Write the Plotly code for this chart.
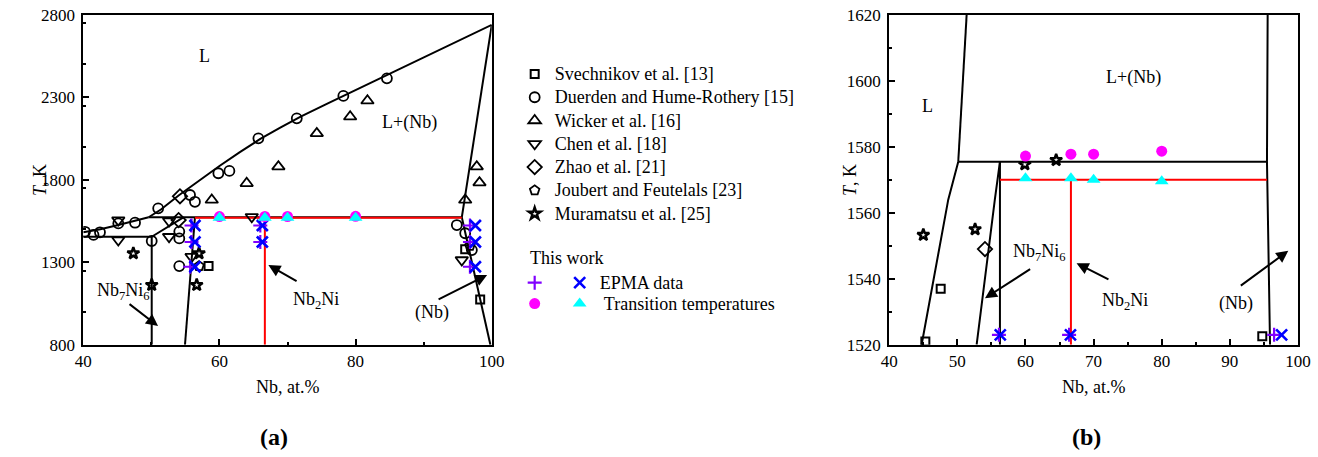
import plotly.graph_objects as go

# ---------------- panel (a): full Nb-rich section ----------------
# phase boundaries (Nb at.%, T in K)
a_liq_low_x = [40.0, 42.5, 45.0, 47.5, 49.6]
a_liq_low_t = [1482, 1500, 1525, 1550, 1573]
a_liq_x = [49.6, 51.4, 54.0, 57.0, 60.0, 63.0, 66.0, 69.0, 72.0, 76.0, 80.0, 85.0, 90.0, 95.0, 100.0]
a_liq_t = [1573, 1620, 1705, 1797, 1884, 1968, 2048, 2118, 2185, 2265, 2345, 2445, 2543, 2642, 2740]
a_peri_x = [49.6, 95.6]
a_peri_t = [1573, 1573]
a_eut_x = [40.0, 50.05]
a_eut_t = [1455, 1455]
a_mu_left_x = [50.05, 50.05]
a_mu_left_t = [1455, 800]
a_mu_sol_x = [50.05, 54.7]
a_mu_sol_t = [1455, 1573]
a_mu_right_x = [56.4, 54.94]
a_mu_right_t = [1573, 800]
a_nb_sol_x = [95.6, 100.0]
a_nb_sol_t = [1573, 2740]
a_nb_solv_x = [95.6, 99.8]
a_nb_solv_t = [1573, 800]
a_red_h_x = [56.4, 95.6]
a_red_h_t = [1570, 1570]
a_red_v_x = [66.67, 66.67]
a_red_v_t = [800, 1570]

# literature data, panel (a)
a_svech_x = [58.4, 96.1, 98.3]
a_svech_t = [1277, 1379, 1075]
a_duerden_x = [40.25, 41.5, 42.45, 45.14, 47.6, 50.05, 51.0, 54.1, 54.1, 54.1, 55.68, 56.4,
               59.84, 61.46, 65.72, 71.36, 78.2, 84.6, 94.87, 96.1, 97.08]
a_duerden_t = [1485, 1466, 1482, 1536, 1540, 1429, 1627, 1486, 1445, 1277, 1708, 1667,
               1840, 1854, 2052, 2173, 2309, 2416, 1526, 1476, 1374]
a_wicker_x = [58.87, 64.0, 68.66, 74.3, 79.2, 81.74, 96.1, 97.8, 98.2]
a_wicker_t = [1678, 1779, 1880, 2082, 2183, 2280, 1678, 1880, 1783]
a_chen_x = [45.14, 45.14, 52.6, 52.6, 55.9, 64.75, 95.6]
a_chen_t = [1556, 1435, 1550, 1455, 1334, 1576, 1314]
a_zhao_x = [54.2, 54.0]
a_zhao_t = [1700, 1556]
a_joubert_x = [57.0, 96.8]
a_joubert_t = [1277, 1400]
a_mura_x = [47.35, 50.05, 57.0, 56.66]
a_mura_t = [1354, 1162, 1354, 1162]

# this work, panel (a)
a_epma_p_x = [55.9, 55.9, 55.7, 66.0, 66.0, 96.8, 96.8, 96.8]
a_epma_p_t = [1523, 1423, 1273, 1523, 1423, 1523, 1423, 1273]
a_epma_x_x = [56.4, 56.4, 56.4, 66.3, 66.3, 97.6, 97.6, 97.6]
a_epma_x_t = [1523, 1423, 1273, 1523, 1423, 1523, 1423, 1273]

# transition temperatures (both panels)
tt_circ_x = [60.0, 66.67, 70.0, 80.0]
tt_circ_t = [1577.2, 1577.8, 1577.8, 1578.7]
tt_tri_x = [60.0, 66.67, 70.0, 80.0]
tt_tri_t = [1570.5, 1570.5, 1570.0, 1569.6]

# ---------------- panel (b): enlarged region near 1575 K ----------------
b_liq_hi_x = [51.36, 50.13]
b_liq_hi_t = [1620, 1575.5]
b_liq_low_x = [50.13, 48.66, 44.75]
b_liq_low_t = [1575.5, 1564, 1520]
b_peri_x = [50.13, 95.45]
b_peri_t = [1575.5, 1575.5]
b_mu_sol_x = [56.25, 55.5, 52.83]
b_mu_sol_t = [1575.5, 1564, 1520]
b_mu_right_x = [56.25, 56.25]
b_mu_right_t = [1575.5, 1520]
b_nb_x = [95.55, 95.45, 95.9]
b_nb_t = [1620, 1575.5, 1520]
b_red_h_x = [56.25, 95.45]
b_red_h_t = [1570, 1570]
b_red_v_x = [66.67, 66.67]
b_red_v_t = [1520, 1570]

b_svech_x = [45.3, 47.55, 94.76]
b_svech_t = [1521, 1537, 1522.6]
b_zhao_x = [54.05]
b_zhao_t = [1549]
b_mura_x = [45.0, 52.6, 59.9, 64.5]
b_mura_t = [1553.3, 1555, 1574.7, 1576]
b_epma_p_x = [56.1, 66.4, 96.5]
b_epma_p_t = [1523, 1523, 1523]
b_epma_x_x = [56.3, 66.6, 97.6]
b_epma_x_t = [1523, 1523, 1523]

FONT = "Liberation Serif"
BLUE = "#0000ff"
PURPLE = "#8000ff"

fig = go.Figure()


def big(s):
    # legend rows are spaced from the legend font size; the entry text itself is set larger
    return f"<span style='font-size:18px'>{s}</span>" if s.strip() else s


def line(x, t, color="black", ax="x", ay="y"):
    fig.add_trace(go.Scatter(x=x, y=t, mode="lines", xaxis=ax, yaxis=ay,
                             line=dict(color=color, width=2),
                             showlegend=False, hoverinfo="skip"))


def pts(x, t, symbol, size, name=None, ax="x", ay="y", color="black",
        lw=1.8, legend=None, filled=False):
    marker = dict(symbol=symbol, size=size, color=color,
                  line=dict(width=lw if not filled else 0, color=color))
    fig.add_trace(go.Scatter(x=x, y=t, mode="markers", xaxis=ax, yaxis=ay,
                             marker=marker, name=big(name) if name else "",
                             showlegend=legend is not None,
                             legend=legend if legend else "legend",
                             hoverinfo="skip"))


# panel (a) boundaries
line(a_liq_low_x, a_liq_low_t)
line(a_liq_x, a_liq_t)
line(a_peri_x, a_peri_t)
line(a_eut_x, a_eut_t)
line(a_mu_left_x, a_mu_left_t)
line(a_mu_sol_x, a_mu_sol_t)
line(a_mu_right_x, a_mu_right_t)
line(a_nb_sol_x, a_nb_sol_t)
line(a_nb_solv_x, a_nb_solv_t)
line(a_red_h_x, a_red_h_t, "red")
line(a_red_v_x, a_red_v_t, "red")

# panel (b) boundaries
for bx, bt in [(b_liq_hi_x, b_liq_hi_t), (b_liq_low_x, b_liq_low_t), (b_peri_x, b_peri_t),
               (b_mu_sol_x, b_mu_sol_t), (b_mu_right_x, b_mu_right_t), (b_nb_x, b_nb_t)]:
    line(bx, bt, ax="x2", ay="y2")
line(b_red_h_x, b_red_h_t, "red", "x2", "y2")
line(b_red_v_x, b_red_v_t, "red", "x2", "y2")

# literature data (a) with legend entries
pts(a_svech_x, a_svech_t, "square-open", 8, "Svechnikov et al. [13]", legend="legend", lw=2)
pts(a_duerden_x, a_duerden_t, "circle-open", 10, "Duerden and Hume-Rothery [15]", legend="legend")
pts(a_wicker_x, a_wicker_t, "triangle-up-open", 11, "Wicker et al. [16]", legend="legend")
pts(a_chen_x, a_chen_t, "triangle-down-open", 11, "Chen et al. [18]", legend="legend")
pts(a_zhao_x, a_zhao_t, "diamond-open", 11, "Zhao et al. [21]", legend="legend")
pts(a_joubert_x, a_joubert_t, "pentagon-open", 10, "Joubert and Feutelals [23]", legend="legend")
pts(a_mura_x, a_mura_t, "star-open", 9, "Muramatsu et al. [25]", legend="legend", lw=2.4)

# literature data (b)
pts(b_svech_x, b_svech_t, "square-open", 8, ax="x2", ay="y2", lw=2)
pts(b_zhao_x, b_zhao_t, "diamond-open", 11, ax="x2", ay="y2")
pts(b_mura_x, b_mura_t, "star-open", 9, ax="x2", ay="y2", lw=2.4)

# this work
for ax, ay, px_, pt_, xx_, xt_ in [("x", "y", a_epma_p_x, a_epma_p_t, a_epma_x_x, a_epma_x_t),
                                   ("x2", "y2", b_epma_p_x, b_epma_p_t, b_epma_x_x, b_epma_x_t)]:
    first = ax == "x"
    pts(px_, pt_, "cross-thin", 10, "", ax=ax, ay=ay, color=PURPLE, lw=2.2,
        legend="legend2" if first else None)
    pts(xx_, xt_, "x-thin", 11, "EPMA data", ax=ax, ay=ay, color=BLUE, lw=2.6,
        legend="legend2" if first else None)
    pts(tt_circ_x, tt_circ_t, "circle", 11, "", ax=ax, ay=ay, color="#ff00ff",
        filled=True, legend="legend3" if first else None)
    pts(tt_tri_x, tt_tri_t, "triangle-up", 12, " Transition temperatures", ax=ax, ay=ay,
        color="#00ffff", filled=True, legend="legend3" if first else None)

axis_common = dict(showline=True, linewidth=2, linecolor="black", mirror=True,
                   ticks="inside", ticklen=6, tickwidth=2, tickcolor="black",
                   showgrid=False, zeroline=False, automargin=False,
                   tickfont=dict(family=FONT, size=17, color="black"))

leg_common = dict(xanchor="left", yanchor="top", bgcolor="rgba(0,0,0,0)",
                  font=dict(family=FONT, size=15.6, color="black"), itemsizing="trace",
                  tracegroupgap=0)

fig.update_layout(
    template="none",
    width=1318, height=457,
    margin=dict(l=0, r=0, t=0, b=0, autoexpand=False),
    paper_bgcolor="white", plot_bgcolor="white",
    font=dict(family=FONT, size=18, color="black"),
    xaxis=dict(domain=[0.0632, 0.3731], range=[40, 100], dtick=20, tick0=40,
               minor=dict(ticks="inside", ticklen=3, tickwidth=2, dtick=10, tickcolor="black"),
               **axis_common),
    yaxis=dict(domain=[0.2457, 0.9672], range=[800, 2800], dtick=500, tick0=800,
               ticklabelstandoff=3,
               minor=dict(ticks="inside", ticklen=3, tickwidth=2, dtick=250, tickcolor="black"),
               **axis_common),
    xaxis2=dict(domain=[0.6747, 0.9848], range=[40, 100], dtick=10, tick0=40, anchor="y2",
                minor=dict(ticks="inside", ticklen=3, tickwidth=2, dtick=5, tickcolor="black"),
                **axis_common),
    yaxis2=dict(domain=[0.2457, 0.9672], range=[1520, 1620], dtick=20, tick0=1520, anchor="x2",
                ticklabelstandoff=3,
                minor=dict(ticks="inside", ticklen=3, tickwidth=2, dtick=10, tickcolor="black"),
                **axis_common),
    legend=dict(x=0.3905, y=0.8746, **leg_common),
    legend2=dict(x=0.3905, y=0.4178, orientation="h", **leg_common),
    legend3=dict(x=0.3905, y=0.3721, orientation="h", **leg_common),
)

ann = []


def txt(x, y, s, xref="x", yref="y", size=18, **kw):
    kw.setdefault("xanchor", "center")
    kw.setdefault("yanchor", "middle")
    ann.append(dict(x=x, y=y, xref=xref, yref=yref, text=s, showarrow=False,
                    font=dict(family=FONT, size=size, color="black"), **kw))


def arrow(x0, y0, x1, y1, xref="x", yref="y"):
    ann.append(dict(x=x1, y=y1, ax=x0, ay=y0, xref=xref, yref=yref, axref=xref, ayref=yref,
                    text="", showarrow=True, arrowhead=2, arrowsize=1.2, arrowwidth=2,
                    arrowcolor="black", standoff=0, startstandoff=0))


# panel (a) labels
txt(57.74, 2551, "L")
txt(87.86, 2145, "L+(Nb)")
txt(45.9, 1120, "Nb<sub>7</sub>Ni<sub>6</sub>")
txt(74.2, 1071, "Nb<sub>2</sub>Ni")
txt(91.17, 998, "(Nb)")
arrow(46.57, 1053, 50.98, 913)
arrow(71.55, 1180, 67.19, 1283)
arrow(91.97, 1071, 99.32, 1223)

# panel (b) labels
txt(45.68, 1592.4, "L", "x2", "y2")
txt(75.92, 1600.9, "L+(Nb)", "x2", "y2")
txt(62.12, 1548.1, "Nb<sub>7</sub>Ni<sub>6</sub>", "x2", "y2")
txt(74.6, 1533.0, "Nb<sub>2</sub>Ni", "x2", "y2")
txt(90.9, 1532.6, "(Nb)", "x2", "y2")
arrow(60.9, 1543.2, 54.05, 1534.1, "x2", "y2")
arrow(72.4, 1539.6, 67.5, 1544.7, "x2", "y2")
arrow(91.39, 1537.6, 98.58, 1548.5, "x2", "y2")

# axis titles and panel tags
txt(0.0303, 0.606, "<i>T</i>, K", "paper", "paper", textangle=-90)
txt(0.6449, 0.606, "<i>T</i>, K", "paper", "paper", textangle=-90)
txt(0.2178, 0.1532, "Nb, at.%", "paper", "paper")
txt(0.8293, 0.1532, "Nb, at.%", "paper", "paper")
txt(0.2079, 0.0438, "<b>(a)</b>", "paper", "paper", size=24)
txt(0.8247, 0.0438, "<b>(b)</b>", "paper", "paper", size=24)
txt(0.4006, 0.4354, "This work", "paper", "paper", xanchor="left")

fig.update_layout(annotations=ann)
fig.write_html("out.html")
